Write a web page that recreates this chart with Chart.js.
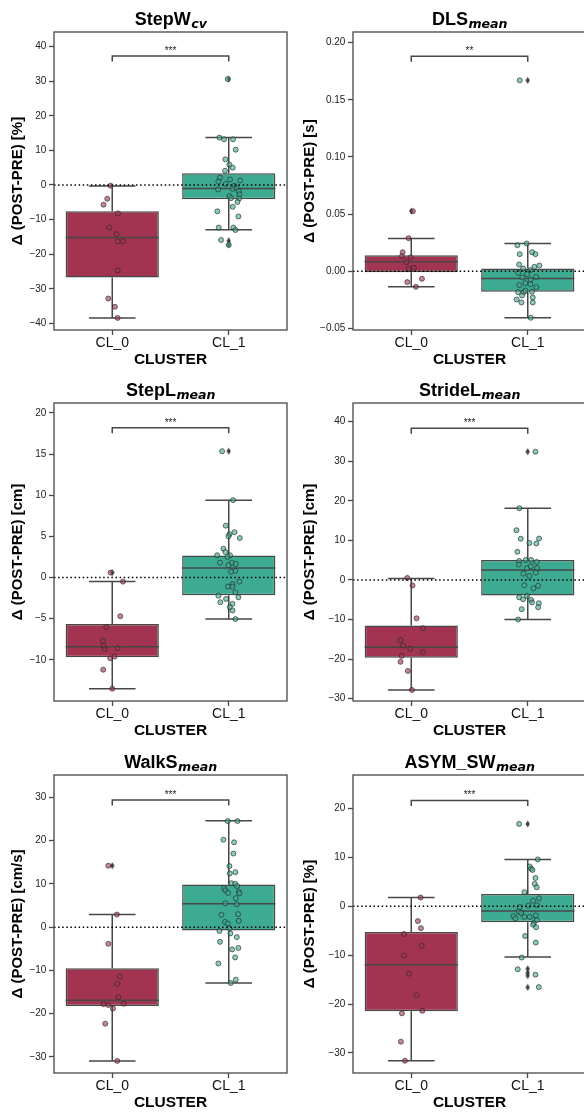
<!DOCTYPE html>
<html>
<head>
<meta charset="utf-8">
<script src="https://cdn.jsdelivr.net/npm/chart.js@4.4.0/dist/chart.umd.min.js"></script>
<style>
html, body { margin: 0; padding: 0; background: #fff; }
body { width: 584px; height: 1114px; position: relative; overflow: hidden; }
.panel { position: absolute; }
</style>
</head>
<body>
<div class="panel" style="left:0;top:0"><canvas id="c0" width="292" height="372"></canvas></div>
<div class="panel" style="left:292px;top:0"><canvas id="c1" width="299" height="372"></canvas></div>
<div class="panel" style="left:0;top:371px"><canvas id="c2" width="292" height="372"></canvas></div>
<div class="panel" style="left:292px;top:371px"><canvas id="c3" width="299" height="372"></canvas></div>
<div class="panel" style="left:0;top:743px"><canvas id="c4" width="292" height="372"></canvas></div>
<div class="panel" style="left:292px;top:743px"><canvas id="c5" width="299" height="372"></canvas></div>
<script>
// ---- data ----
const clusters = ['CL_0', 'CL_1'];
const titleMain = ['StepW', 'DLS', 'StepL', 'StrideL', 'WalkS', 'ASYM_SW'];
const titleSub = ['cv', 'mean', 'mean', 'mean', 'mean', 'mean'];
const yUnits = ['[%]', '[s]', '[cm]', '[cm]', '[cm/s]', '[%]'];

const yMin = [-41.9, -0.0515, -15.0, -30.6, -33.7, -34.1];
const yMax = [44.2, 0.2093, 21.2, 44.7, 35.15, 26.8];
const yTicks = [
    [-40, -30, -20, -10, 0, 10, 20, 30, 40],
    [-0.05, 0, 0.05, 0.10, 0.15, 0.20],
    [-10, -5, 0, 5, 10, 15, 20],
    [-30, -20, -10, 0, 10, 20, 30, 40],
    [-30, -20, -10, 0, 10, 20, 30],
    [-30, -20, -10, 0, 10, 20]
];
const yDecimals = [0, 2, 0, 0, 0, 0];

// significance brackets
const sigLevel = [37.3, 0.188, 18.2, 38.3, 29.4, 21.6];
const sigText = ['***', '**', '***', '***', '***', '***'];

// box statistics, [CL_0, CL_1] for each panel
const boxQ1 = [[-26.7, -4.1], [-0.001, -0.018], [-9.7, -2.14], [-19.7, -3.96], [-18.2, -0.77], [-21.5, -3.3]];
const boxMedian = [[-15.2, -1.0], [0.0082, -0.0064], [-8.4, 1.17], [-17.0, 2.53], [-16.9, 5.4], [-12.0, -1.0]];
const boxQ3 = [[-7.6, 3.4], [0.014, 0.0023], [-5.66, 2.67], [-11.5, 5.05], [-9.5, 9.85], [-5.3, 2.5]];
const whiskerLow = [[-38.4, -12.9], [-0.0137, -0.0408], [-13.5, -5.05], [-27.8, -10.0], [-30.9, -12.9], [-31.6, -10.4]];
const whiskerHigh = [[-0.3, 13.7], [0.0286, 0.0242], [-0.48, 9.4], [0.34, 18.1], [2.9, 24.6], [1.76, 9.55]];
const outliersCL0 = [[], [0.0525], [0.6], [], [14.2], []];
const outliersCL1 = [[30.6, -16.1, -17.3], [0.167], [15.35], [32.4], [], [16.8, -12.8, -13.6, -14.2, -16.6]];

// individual subjects (values) and their horizontal strip jitter (category units)
const stepW_CL0 = [-0.2, -4.0, -5.7, -8.2, -12.3, -14.2, -16.3, -16.3, -24.7, -32.8, -35.2, -38.4];
const stepW_CL0_jit = [-0.014, -0.043, -0.075, 0.049, -0.026, 0.037, 0.046, 0.092, 0.046, -0.034, 0.023, 0.046];
const stepW_CL1 = [30.6, 13.7, 13.2, 13.2, 10.2, 7.4, 5.9, 5.0, 4.1, 2.1, 1.6, 1.3, 1.0, 0.3, -0.2, -1.3, -1.1, -0.9, -1.8, -3.2, -2.7, -3.8, -3.9, -4.9, -6.3, -7.6, -9.1, -12.3, -12.3, -13.0, -15.9, -17.3];
const stepW_CL1_jit = [-0.009, -0.08, -0.04, 0.037, 0.06, -0.029, 0.006, 0.034, -0.032, -0.075, 0.011, 0.098, -0.089, -0.026, 0.049, -0.092, 0.034, 0.069, 0.086, 0.006, 0.092, 0.02, 0.089, 0.075, 0.034, -0.098, 0.083, -0.086, 0.04, 0.057, -0.066, 0];

const dls_CL0 = [0.0525, 0.0289, 0.0166, 0.0131, 0.012, 0.0079, 0.0029, 0.002, -0.0067, -0.0096, -0.0137];
const dls_CL0_jit = [0.014, -0.023, -0.074, -0.08, -0.006, -0.043, 0.023, -0.023, 0.092, -0.034, 0.04];
const dls_CL1 = [0.167, 0.0227, 0.0242, 0.0166, 0.0149, 0.0149, 0.005, 0.0058, 0.0038, 0.0023, 0.0009, -0.0015, -0.0026, -0.005, -0.0055, -0.0073, -0.0105, -0.0122, -0.014, -0.0114, -0.0184, -0.0184, -0.018, -0.0213, -0.023, -0.0248, -0.0274, -0.0274, -0.0408, -0.017];
const dls_CL1_jit = [-0.069, -0.089, -0.009, 0.037, 0.066, -0.069, 0.1, -0.074, 0.057, -0.04, 0.023, -0.083, -0.006, 0.072, -0.046, 0.026, -0.02, -0.072, 0.074, 0.023, -0.083, -0.034, 0.037, -0.049, 0.043, -0.095, -0.054, 0.043, 0.026, -0.02];

const stepL_CL0 = [0.6, -0.5, -4.7, -6.0, -7.7, -8.3, -8.7, -8.6, -9.8, -9.6, -11.2, -13.5];
const stepL_CL0_jit = [-0.014, 0.092, 0.069, -0.052, -0.08, -0.075, -0.066, 0.046, -0.017, 0.02, -0.078, 0];
const stepL_CL1 = [15.35, 9.4, 6.3, 5.5, 5.25, 4.8, 3.5, 3.1, 2.7, 2.7, 2.5, 1.8, 1.8, 1.65, 1.5, 0.8, 0.7, -0.5, -0.8, -1.1, -1.8, -2.2, -2.4, -2.6, -3.0, -3.2, -3.6, -4.0, -5.05, 5.0, -1.1];
const stepL_CL1_jit = [-0.057, 0.037, -0.026, 0.049, 0.006, 0.095, -0.046, -0.029, -0.1, 0.011, -0.011, -0.075, 0.026, 0.06, -0.003, 0.055, 0.02, 0.092, 0.032, -0.006, 0.057, -0.089, 0.083, -0.023, -0.072, 0.032, 0.009, 0.032, 0.057, -0.003, 0.032];

const strideL_CL0 = [0.5, -1.4, -9.7, -12.2, -15.2, -16.6, -17.4, -18.3, -19.2, -20.7, -23.0, -27.8];
const strideL_CL0_jit = [-0.034, 0.011, 0.046, 0.1, -0.095, -0.069, -0.009, 0.1, -0.083, -0.092, -0.029, 0.006];
const strideL_CL1 = [32.4, 18.1, 12.55, 10.4, 10.45, 9.35, 9.2, 7.1, 4.8, 5.05, 5.05, 4.55, 3.9, 2.95, 3.4, 3.0, 1.85, 1.6, 1.0, -1.35, -1.5, -2.1, -4.4, -4.05, -4.9, -5.05, -5.9, -5.7, -6.9, -7.4, -10.0];
const strideL_CL1_jit = [0.066, -0.072, -0.097, -0.06, 0.097, 0.014, 0.074, -0.089, -0.074, -0.017, 0.029, 0.077, -0.077, -0.006, 0.026, 0.08, 0.069, -0.037, 0.014, -0.029, 0.089, 0.049, -0.074, -0.006, -0.04, 0.029, 0.095, 0.037, 0.089, -0.052, -0.083];

const walkS_CL0 = [14.2, 2.9, -3.85, -11.4, -13.1, -16.2, -17.8, -18.0, -17.7, -18.8, -22.3, -30.9];
const walkS_CL0_jit = [-0.034, 0.04, -0.034, 0.066, 0.043, 0.052, -0.075, -0.034, 0.098, 0.006, -0.06, 0.043];
const walkS_CL1 = [24.5, 24.5, 20.2, 19.6, 17.0, 14.1, 12.7, 12.4, 10.15, 10.0, 9.5, 9.0, 8.5, 7.9, 8.15, 7.8, 6.7, 5.5, 5.3, 2.85, 3.0, 1.2, 0.85, 1.45, -0.9, -0.3, -1.45, -2.3, -3.4, -5.15, -4.8, -7.0, -8.4, -12.15, -12.9];
const walkS_CL1_jit = [-0.009, 0.075, -0.046, 0.046, 0.04, 0.006, 0.057, 0.009, 0.023, 0.055, 0.072, -0.04, -0.029, -0.006, 0.086, 0.092, 0.06, -0.029, 0.069, -0.063, 0.08, -0.032, -0.009, 0.086, -0.08, 0.006, 0.014, 0.069, -0.075, 0.029, 0.083, 0.055, -0.089, 0.06, 0.017];

const asymSW_CL0 = [1.76, -3.05, -4.5, -5.7, -8.1, -10.1, -13.8, -18.2, -21.4, -21.9, -27.7, -31.6];
const asymSW_CL0_jit = [0.08, 0.057, 0.083, -0.063, 0.089, -0.063, -0.02, 0.046, 0.095, -0.08, -0.089, -0.054];
const asymSW_CL1 = [16.8, 9.55, 8.1, 7.65, 7.4, 5.75, 4.55, 3.85, 2.85, 1.6, 1.1, -0.2, 0.14, 0.2, -1.15, -1.4, -1.9, -2.05, -2.2, -2.5, -2.2, -2.85, -3.45, -3.8, -4.3, -6.1, -7.45, -10.5, -12.9, -14.0, -16.55];
const asymSW_CL1_jit = [-0.074, 0.086, 0.017, 0.029, 0.04, 0.066, 0.06, 0.077, -0.029, 0.097, 0.046, -0.069, 0.006, 0.08, -0.077, -0.057, 0.069, -0.123, 0.017, -0.106, -0.029, 0.077, 0.052, 0.046, 0.072, -0.023, 0.069, -0.052, -0.086, 0.066, 0.095];

const pointValues = [
    [stepW_CL0, stepW_CL1], [dls_CL0, dls_CL1], [stepL_CL0, stepL_CL1],
    [strideL_CL0, strideL_CL1], [walkS_CL0, walkS_CL1], [asymSW_CL0, asymSW_CL1]
];
const pointJitter = [
    [stepW_CL0_jit, stepW_CL1_jit], [dls_CL0_jit, dls_CL1_jit], [stepL_CL0_jit, stepL_CL1_jit],
    [strideL_CL0_jit, strideL_CL1_jit], [walkS_CL0_jit, walkS_CL1_jit], [asymSW_CL0_jit, asymSW_CL1_jit]
];

// ---- styling ----
const boxColors = ['#a23452', '#3cab92'];
const pointFill = ['rgba(162, 52, 82, 0.6)', 'rgba(60, 171, 146, 0.6)'];
const pointEdge = 'rgba(40, 40, 40, 0.65)';
const lineColor = '#474747';
const FONT = '"Liberation Sans", Arial, Helvetica, sans-serif';

// thin diamond marker used for the fliers
const thinDiamond = document.createElement('canvas');
thinDiamond.width = 5;
thinDiamond.height = 8;
(function () {
    const c = thinDiamond.getContext('2d');
    c.fillStyle = '#3a3a3a';
    c.beginPath();
    c.moveTo(2.5, 0.5);
    c.lineTo(4.6, 4);
    c.lineTo(2.5, 7.5);
    c.lineTo(0.4, 4);
    c.closePath();
    c.fill();
})();

const boxParts = {
    id: 'boxParts',
    afterDatasetDraw(chart, args) {
        if (args.meta.type !== 'bar') return;
        const i = chart.options.plugins.boxParts.panel;
        const {ctx, scales: {x, y}} = chart;
        ctx.save();
        ctx.strokeStyle = lineColor;
        ctx.lineWidth = 1.5;
        clusters.forEach((c, k) => {
            const cx = x.getPixelForValue(k);
            const capL = x.getPixelForValue(k - 0.2), capR = x.getPixelForValue(k + 0.2);
            const boxL = x.getPixelForValue(k - 0.4), boxR = x.getPixelForValue(k + 0.4);
            ctx.beginPath();
            ctx.moveTo(cx, y.getPixelForValue(boxQ3[i][k]));
            ctx.lineTo(cx, y.getPixelForValue(whiskerHigh[i][k]));
            ctx.moveTo(cx, y.getPixelForValue(boxQ1[i][k]));
            ctx.lineTo(cx, y.getPixelForValue(whiskerLow[i][k]));
            ctx.moveTo(capL, y.getPixelForValue(whiskerHigh[i][k]));
            ctx.lineTo(capR, y.getPixelForValue(whiskerHigh[i][k]));
            ctx.moveTo(capL, y.getPixelForValue(whiskerLow[i][k]));
            ctx.lineTo(capR, y.getPixelForValue(whiskerLow[i][k]));
            ctx.moveTo(boxL, y.getPixelForValue(boxMedian[i][k]));
            ctx.lineTo(boxR, y.getPixelForValue(boxMedian[i][k]));
            ctx.stroke();
        });
        ctx.restore();
    }
};

const overlay = {
    id: 'overlay',
    afterDatasetsDraw(chart) {
        const i = chart.options.plugins.boxParts.panel;
        const {ctx, chartArea: a, scales: {x, y}} = chart;
        ctx.save();
        // zero reference line
        const y0 = y.getPixelForValue(0);
        ctx.strokeStyle = '#000';
        ctx.lineWidth = 1.5;
        ctx.setLineDash([1.5, 2.6]);
        ctx.beginPath();
        ctx.moveTo(a.left, y0);
        ctx.lineTo(a.right, y0);
        ctx.stroke();
        ctx.setLineDash([]);
        // frame
        ctx.strokeStyle = lineColor;
        ctx.lineWidth = 1.3;
        ctx.strokeRect(a.left, a.top, a.right - a.left, a.bottom - a.top);
        // significance bracket
        const by = y.getPixelForValue(sigLevel[i]);
        const x0 = x.getPixelForValue(0), x1 = x.getPixelForValue(1);
        ctx.lineWidth = 1.5;
        ctx.beginPath();
        ctx.moveTo(x0, by + 5.5);
        ctx.lineTo(x0, by);
        ctx.lineTo(x1, by);
        ctx.lineTo(x1, by + 5.5);
        ctx.stroke();
        ctx.fillStyle = '#222';
        ctx.font = '10px ' + FONT;
        ctx.textAlign = 'center';
        ctx.textBaseline = 'alphabetic';
        ctx.fillText(sigText[i], (x0 + x1) / 2, by - 2);
        // title with subscript
        ctx.font = 'bold 18px ' + FONT;
        const w1 = ctx.measureText(titleMain[i]).width;
        ctx.font = 'italic bold 12.6px "DejaVu Sans", sans-serif';
        const w2 = ctx.measureText(titleSub[i]).width;
        const tx = (a.left + a.right) / 2 - (w1 + w2) / 2;
        const ty = a.top - 7;
        ctx.fillStyle = '#000';
        ctx.textAlign = 'left';
        ctx.font = 'bold 18px ' + FONT;
        ctx.fillText(titleMain[i], tx, ty);
        ctx.font = 'italic bold 12.6px "DejaVu Sans", sans-serif';
        ctx.fillText(titleSub[i], tx + w1 + 0.5, ty + 2.8);
        ctx.restore();
    }
};

function makeChart(i) {
    const isRight = i % 2 === 1;
    const datasets = [
        {
            type: 'bar',
            order: 4,
            data: clusters.map((c, k) => ({x: k, y: [boxQ1[i][k], boxQ3[i][k]]})),
            backgroundColor: boxColors,
            borderColor: lineColor,
            borderWidth: 1.5,
            borderSkipped: false,
            categoryPercentage: 0.8,
            barPercentage: 1.0
        },
        {
            type: 'scatter',
            order: 3,
            data: outliersCL0[i].map(v => ({x: 0, y: v})).concat(outliersCL1[i].map(v => ({x: 1, y: v}))),
            pointStyle: thinDiamond,
            radius: 3
        }
    ];
    clusters.forEach((c, k) => {
        datasets.push({
            type: 'scatter',
            order: 2 - k,
            data: pointValues[i][k].map((v, j) => ({x: k + pointJitter[i][k][j], y: v})),
            backgroundColor: pointFill[k],
            borderColor: pointEdge,
            borderWidth: 1,
            radius: 2.5
        });
    });

    new Chart(document.getElementById('c' + i), {
        type: 'scatter',
        data: {datasets},
        plugins: [boxParts, overlay],
        options: {
            responsive: false,
            animation: false,
            events: [],
            layout: {padding: {top: 32, right: 5, left: 0, bottom: 0}},
            plugins: {
                legend: {display: false},
                tooltip: {enabled: false},
                title: {display: false},
                boxParts: {panel: i}
            },
            scales: {
                x: {
                    type: 'linear',
                    min: -0.5,
                    max: 1.5,
                    offset: false,
                    afterBuildTicks: s => { s.ticks = clusters.map((c, k) => ({value: k})); },
                    afterFit: s => { s.height = 42; },
                    grid: {drawOnChartArea: false, drawTicks: true, tickLength: 5, tickColor: lineColor, tickWidth: 1.3, offset: false},
                    border: {display: false},
                    ticks: {
                        autoSkip: false,
                        maxRotation: 0,
                        padding: 0,
                        color: '#111',
                        font: {family: FONT, size: 14},
                        callback: v => clusters[v]
                    },
                    title: {
                        display: true,
                        text: 'CLUSTER',
                        color: '#000',
                        font: {family: FONT, size: 15.5, weight: 'bold', lineHeight: 1.2},
                        padding: {top: 0, bottom: 2.5}
                    }
                },
                y: {
                    type: 'linear',
                    min: yMin[i],
                    max: yMax[i],
                    beginAtZero: false,
                    afterBuildTicks: s => { s.ticks = yTicks[i].map(v => ({value: v})); },
                    afterFit: s => { s.width = isRight ? 61 : 54; },
                    grid: {drawOnChartArea: false, drawTicks: true, tickLength: 5, tickColor: lineColor, tickWidth: 1.3},
                    border: {display: false},
                    ticks: {
                        padding: 2.6,
                        color: '#222',
                        font: {family: FONT, size: 10},
                        callback: v => v.toFixed(yDecimals[i]).replace('-', '\u2212')
                    },
                    title: {
                        display: true,
                        text: '\u0394 (POST-PRE) ' + yUnits[i],
                        color: '#000',
                        font: {family: FONT, size: 15, weight: 'bold', lineHeight: 1.2},
                        padding: {top: 9.3, bottom: 0}
                    }
                }
            }
        }
    });
}

for (let i = 0; i < 6; i++) makeChart(i);
</script>
</body>
</html>
